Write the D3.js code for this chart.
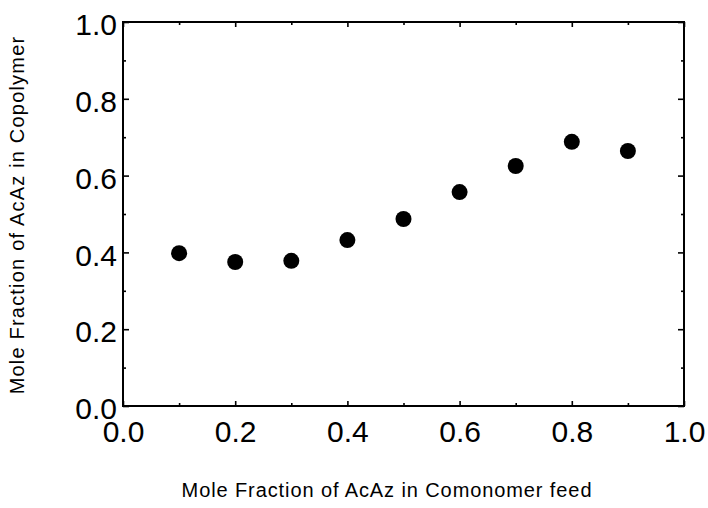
<!DOCTYPE html>
<html>
<head>
<meta charset="utf-8">
<script src="https://cdn.jsdelivr.net/npm/d3@7"></script>
<style>
  html, body { margin: 0; padding: 0; background: #fff; }
  svg { display: block; font-family: "Liberation Sans", Arial, Helvetica, sans-serif; }
</style>
</head>
<body>
<svg id="chart" width="708" height="508"></svg>
<script>
// Data
const feedFraction = [0.1, 0.2, 0.3, 0.4, 0.5, 0.6, 0.7, 0.8, 0.9];
const copolymerFraction = [0.398, 0.375, 0.378, 0.432, 0.487, 0.557, 0.625, 0.688, 0.664];
const majorTicks = [0.0, 0.2, 0.4, 0.6, 0.8, 1.0];
const minorTicks = [0.1, 0.3, 0.5, 0.7, 0.9];
const xTitle = "Mole Fraction of AcAz in Comonomer feed";
const yTitle = "Mole Fraction of AcAz in Copolymer";

const svg = d3.select("#chart");
const pLeft = 123, pRight = 684, pTop = 22, pBottom = 406;

const x = d3.scaleLinear().domain([0, 1]).range([pLeft, pRight]);
const y = d3.scaleLinear().domain([0, 1]).range([pBottom, pTop]);
const fmt = d3.format(".1f");

// frame
svg.append("rect")
  .attr("x", pLeft).attr("y", pTop)
  .attr("width", pRight - pLeft).attr("height", pBottom - pTop)
  .attr("fill", "none").attr("stroke", "#000").attr("stroke-width", 2);

function styleAxis(g) {
  g.select(".domain").remove();
  g.selectAll(".tick line").attr("stroke", "#000").attr("stroke-width", 1.6);
  g.selectAll("text").attr("fill", "#000").attr("font-size", "30px");
}

// bottom axis
svg.append("g").attr("transform", `translate(0,${pBottom})`)
  .call(d3.axisBottom(x).tickValues(majorTicks).tickFormat(fmt).tickSizeInner(-5).tickSizeOuter(0).tickPadding(15))
  .call(styleAxis);
svg.append("g").attr("transform", `translate(0,${pBottom})`)
  .call(d3.axisBottom(x).tickValues(minorTicks).tickFormat("").tickSizeInner(-3).tickSizeOuter(0))
  .call(styleAxis);
// top axis
svg.append("g").attr("transform", `translate(0,${pTop})`)
  .call(d3.axisTop(x).tickValues(majorTicks).tickFormat("").tickSizeInner(-5).tickSizeOuter(0))
  .call(styleAxis);
svg.append("g").attr("transform", `translate(0,${pTop})`)
  .call(d3.axisTop(x).tickValues(minorTicks).tickFormat("").tickSizeInner(-3).tickSizeOuter(0))
  .call(styleAxis);
// left axis
svg.append("g").attr("transform", `translate(${pLeft},0)`)
  .call(d3.axisLeft(y).tickValues(majorTicks).tickFormat(fmt).tickSizeInner(-6).tickSizeOuter(0).tickPadding(6))
  .call(styleAxis)
  .call(g => g.selectAll("text").attr("dy", "0.42em"));
svg.append("g").attr("transform", `translate(${pLeft},0)`)
  .call(d3.axisLeft(y).tickValues(minorTicks).tickFormat("").tickSizeInner(-3).tickSizeOuter(0))
  .call(styleAxis);
// right axis
svg.append("g").attr("transform", `translate(${pRight},0)`)
  .call(d3.axisRight(y).tickValues(majorTicks).tickFormat("").tickSizeInner(-6).tickSizeOuter(0))
  .call(styleAxis);
svg.append("g").attr("transform", `translate(${pRight},0)`)
  .call(d3.axisRight(y).tickValues(minorTicks).tickFormat("").tickSizeInner(-3).tickSizeOuter(0))
  .call(styleAxis);

// points
svg.append("g").selectAll("circle")
  .data(feedFraction.map((f, i) => ({f, c: copolymerFraction[i]})))
  .join("circle")
  .attr("cx", d => x(d.f))
  .attr("cy", d => y(d.c))
  .attr("r", 8)
  .attr("fill", "#000");

// titles
svg.append("text")
  .attr("x", 387).attr("y", 497)
  .attr("text-anchor", "middle")
  .attr("font-size", "20px")
  .attr("letter-spacing", "0.9px")
  .attr("fill", "#000")
  .text(xTitle);

svg.append("text")
  .attr("transform", "translate(24,215) rotate(-90)")
  .attr("text-anchor", "middle")
  .attr("font-size", "20px")
  .attr("letter-spacing", "1.2px")
  .attr("fill", "#000")
  .text(yTitle);
</script>
</body>
</html>
